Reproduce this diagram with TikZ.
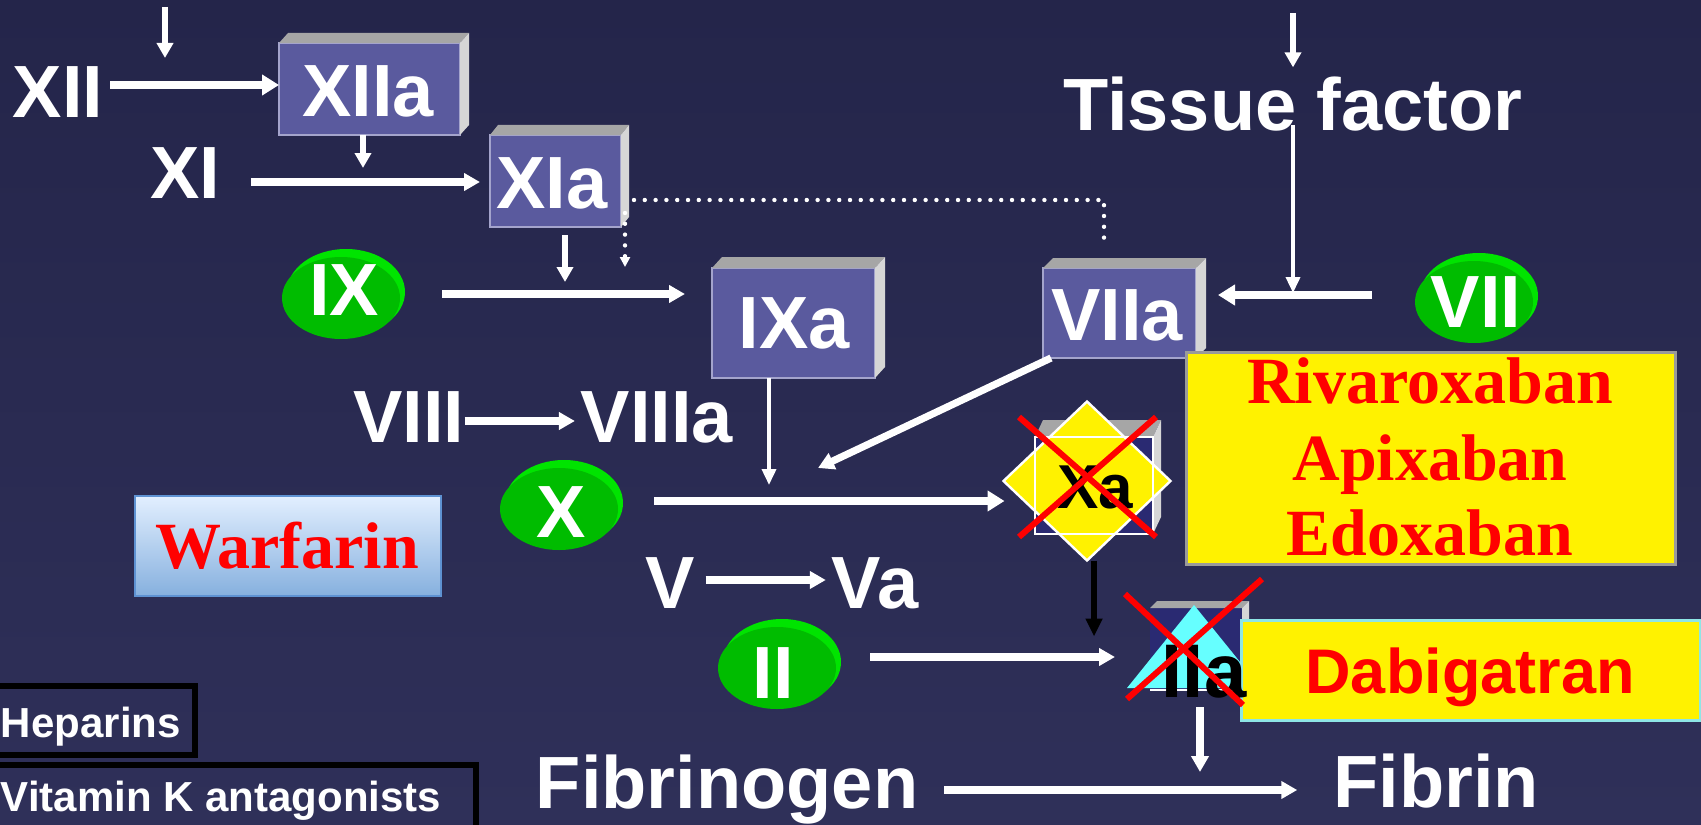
\documentclass[tikz,border=0pt]{standalone}
\usepackage{fontspec}
\setsansfont{Liberation Sans}
\newfontfamily\serifbf{Liberation Serif}
\usetikzlibrary{shapes.geometric,calc,arrows.meta}

\definecolor{bgtop}{HTML}{24254A}
\definecolor{bgbot}{HTML}{2F3059}
\definecolor{faceblue}{HTML}{5A5A9E}
\definecolor{faceedge}{HTML}{A4A4CC}
\definecolor{bevtopc}{HTML}{A6A6A6}
\definecolor{bevrightc}{HTML}{D6D6D6}
\definecolor{navyface}{HTML}{2A2A72}
\definecolor{gmainc}{HTML}{00BC00}
\definecolor{grimc}{HTML}{00E400}
\definecolor{cyantri}{HTML}{66FFFF}
\definecolor{wtop}{HTML}{E2EFFF}
\definecolor{wbot}{HTML}{86B0DE}
\definecolor{wedge}{HTML}{5E92D2}
\definecolor{rivedge}{HTML}{9A9A9A}
\definecolor{dabedge}{HTML}{8EE6E6}

\newcommand\biglbl{\sffamily\bfseries\fontsize{37pt}{40pt}\selectfont}

\tikzset{
 lbl/.style={text=white, font=\biglbl, inner sep=0pt, outer sep=0pt, anchor=base},
 smallw/.style={text=white, font=\sffamily\bfseries\fontsize{21pt}{24pt}\selectfont, inner sep=0pt, outer sep=0pt},
 serlbl/.style={text=red, font=\serifbf\bfseries\fontsize{33pt}{36pt}\selectfont, inner sep=0pt, outer sep=0pt, anchor=base},
 sanred/.style={text=red, font=\sffamily\bfseries\fontsize{31.5pt}{34pt}\selectfont, inner sep=0pt, outer sep=0pt, anchor=base},
 blklbl/.style={text=black, inner sep=0pt, outer sep=0pt, anchor=base},
 face/.style={rectangle, fill=faceblue, draw=faceedge, line width=0.8pt, inner sep=0pt, outer sep=0pt},
 navy/.style={rectangle, fill=navyface, inner sep=0pt, outer sep=0pt},
 bevtop/.style={fill=bevtopc},
 bevright/.style={fill=bevrightc},
 gmain/.style={ellipse, fill=gmainc, inner sep=0pt, outer sep=0pt},
 grim/.style={fill=grimc},
 arrbig/.style={draw=white, line width=4.2pt, -{Triangle[length=8.5pt,width=10pt]}},
 arr/.style={draw=white, line width=3.6pt, -{Triangle[length=8pt,width=8.5pt]}},
 arrthin/.style={draw=white, line width=2.8pt, -{Triangle[length=7.5pt,width=8pt]}},
 arrhair/.style={draw=white, line width=1.8pt, -{Triangle[length=8pt,width=7pt]}},
 blk/.style={draw=black, line width=2.6pt, -{Triangle[length=9pt,width=8pt]}},
 dotline/.style={draw=white, line width=2.2pt, line cap=round, dash pattern=on 0pt off 5.4pt},
 redx/.style={draw=red, line width=3pt},
 drugbox/.style={inner sep=0pt, outer sep=0pt},
}

\newcommand\ebox[8]{%
 \node[#8, minimum width=#4, minimum height=#5] (#1) at (#2,#3) {};
 \fill[bevtop] (#1.north west) -- ++(#6,#7) -- ($(#1.north east)+(#6,#7)$) -- (#1.north east) -- cycle;
 \fill[bevright] (#1.north east) -- ++(#6,#7) -- ($(#1.south east)+(#6,#7)$) -- (#1.south east) -- cycle;
}
\newcommand\gcoin[3]{%
 \fill[grim] ($(#2,#3)+(3,-1)$) ellipse [x radius=29.5pt, y radius=21.5pt];
 \node[gmain, minimum width=59pt, minimum height=41pt] (#1) at ($(#2,#3)+(-2,5)$) {};
}

\begin{document}
\begin{tikzpicture}[x=0.5pt,y=-0.5pt]
\useasboundingbox (0,0) rectangle (1701,824);
\clip (0,0) rectangle (1701,824);
\shade[top color=bgtop, bottom color=bgbot] (0,0) rectangle (1701,824);

% enzyme boxes
\ebox{XIIa}{369.5}{89}{90.5pt}{46pt}{9}{-10}{face}
\ebox{XIa}{555.5}{181}{65.5pt}{46pt}{8}{-10}{face}
\ebox{IXa}{793.5}{323}{81.5pt}{55pt}{10}{-11}{face}
\ebox{VIIa}{1119.5}{313}{76.5pt}{45pt}{10}{-10}{face}

% green coins
\gcoin{IX}{343}{293}
\gcoin{VII}{1476}{297}
\gcoin{X}{561}{504}
\gcoin{II}{779}{663}

% labels
\node[lbl] (XII) at (58,118) {XII};
\node[lbl] (XIIaT) at (368,117) {XIIa};
\node[lbl] (XI) at (185,198) {XI};
\node[lbl] (XIaT) at (552,208) {XIa};
\node[lbl] (IXT) at (344,315) {IX};
\node[lbl] (IXaT) at (794,348) {IXa};
\node[lbl] (VIIaT) at (1117,340) {VIIa};
\node[lbl] (TF) at (1293,130) {Tissue factor};
\node[lbl] (VIIT) at (1476,327) {VII};
\node[lbl] (VIII) at (409,442) {VIII};
\node[lbl] (VIIIa) at (657,442) {VIIIa};
\node[lbl] (XT) at (561,537) {X};
\node[lbl] (V) at (670,608) {V};
\node[lbl] (Va) at (875,608) {Va};
\node[lbl] (IIT) at (773,698) {II};
\node[lbl] (Fgen) at (727,808) {Fibrinogen};
\node[lbl] (Fib) at (1436,807) {Fibrin};

% free ends
\coordinate (tlA) at (165,7);
\coordinate (tlB) at (165,58);
\coordinate (trA) at (1293,13);
\coordinate (dotc) at (1104,200);
\coordinate (diagE) at (818,468);
\coordinate (viiS) at ($(VII.west)+(-43,-7)$);

% arrows
\draw[arrthin] (tlA) -- (tlB);
\draw[arrbig] ($(XII.base east)+(7,-33)$) -- ($(XIIa.west)+(0,-4)$);
\draw[arrthin] ($(XIIa.south)+(-6.5,0)$) -- ($(XIIa.south)+(-6.5,33)$);
\draw[arr] ($(XI.base east)+(31,-16)$) -- ($(XIa.west)+(-10,1)$);
\draw[arrthin] ($(XIa.south)+(9.5,8)$) -- ($(XIa.south)+(9.5,55)$);
\draw[dotline] ($(XIa.east)+(13,19)$) -- (dotc) -- ($(VIIa.north)+(-15.5,-20)$);
\draw[dotline, -{Triangle[length=5pt,width=5pt]}] ($(XIa.south east)+(4,-14)$) -- ($(XIa.south east)+(4,40)$);
\draw[arr] ($(IX.east)+(42,-4)$) -- ($(IXa.west)+(-27,-29)$);
\draw[arrthin] (trA) -- ($(TF.north)+(0,-9)$);
\draw[arrbig] (viiS) -- ($(VIIa.east |- viiS)+(22,0)$);
\draw[arrhair] ($(TF.base)+(0,-5)$) -- ($(TF.base |- viiS)+(0,-2)$);
\draw[arr] ($(VIII.base east)+(0,-21)$) -- ($(VIIIa.base west)+(-6,-21)$);
\draw[arrhair] ($(IXa.south)+(-24.5,0)$) -- ($(IXa.south)+(-24.5,107)$);
\draw[arr] ($(VIIa.south west)+(8,0)$) -- (diagE);
\draw[arr] ($(V.base east)+(11,-28)$) -- ($(Va.base west)+(-6,-28)$);
\draw[arr] ($(II.east)+(34,-11)$) -- (1115,657) coordinate (iiE);
\draw[arr] ($(Fgen.base east)+(26,-18)$) -- ($(Fib.base west)+(-36,-17)$);

% Xa
\ebox{XaB}{1094}{485.5}{59pt}{48.5pt}{8}{-17}{navy}
\node[diamond, fill=yellow, draw=white, line width=1.2pt, minimum width=83.5pt, minimum height=79.5pt, inner sep=0pt, outer sep=0pt] (XaD) at (1087,481) {};
\draw[white, line width=1.2pt] (XaB.north west) rectangle (XaB.south east);
\draw[arrbig] ($(X.east)+(36,-8)$) -- ($(XaD.west)+(1,20)$);
\node[blklbl, font=\sffamily\bfseries\fontsize{31pt}{34pt}\selectfont] (XaT) at (1095,508) {Xa};
\draw[blk] ($(XaD.south)+(7,0)$) -- ($(XaD.south)+(7,76)$);

% IIa
\ebox{IIaB}{1196}{649}{46pt}{41pt}{7}{-7}{navy}
\draw[white, line width=1.2pt] (IIaB.south west) -- (IIaB.south east);
\fill[cyantri] (1194,605) -- (1127,688) -- (1261,688) -- cycle;
\draw[arr] ($(IIaB.south)+(4,17)$) -- ($(IIaB.south)+(4,82)$);

% drug boxes
\node[drugbox, top color=wtop, bottom color=wbot, draw=wedge, line width=1pt, minimum width=153pt, minimum height=50pt] (warbox) at (288,546) {};
\node[serlbl, font=\serifbf\bfseries\fontsize{33pt}{36pt}\selectfont] (war) at (287,568) {Warfarin};

\node[drugbox, fill=yellow, draw=rivedge, line width=1.5pt, minimum width=244.5pt, minimum height=106pt] (rivbox) at (1430.5,458) {};
\node[serlbl] (riv) at (1430,403) {Rivaroxaban};
\node[serlbl] (api) at (1430,480) {Apixaban};
\node[serlbl] (edo) at (1430,555) {Edoxaban};

\node[drugbox, fill=yellow, draw=dabedge, line width=1.5pt, minimum width=229.5pt, minimum height=50pt] (dabbox) at (1470.5,670) {};
\node[sanred] (dab) at (1470,693) {Dabigatran};

\node[blklbl, font=\sffamily\bfseries\fontsize{38pt}{41pt}\selectfont] (IIaT) at (1204,697) {IIa};

% red crosses
\draw[redx] (1019,417) -- (1156,537);
\draw[redx] (1156,417) -- (1019,537);
\draw[redx] (1125,594) -- (1243,705);
\draw[redx] (1262,579) -- (1127,699);

% legend boxes
\node[drugbox, draw=black, line width=3pt, minimum width=107.5pt, minimum height=34.5pt] (hepbox) at (87.5,720.5) {};
\node[smallw, anchor=base west] (hep) at (1,737) {Heparins};
\node[drugbox, draw=black, line width=3pt, minimum width=248pt, minimum height=42.5pt] (vkbox) at (228,807.5) {};
\node[smallw, anchor=base west] (vk) at (1,811) {Vitamin K antagonists};
\end{tikzpicture}
\end{document}
